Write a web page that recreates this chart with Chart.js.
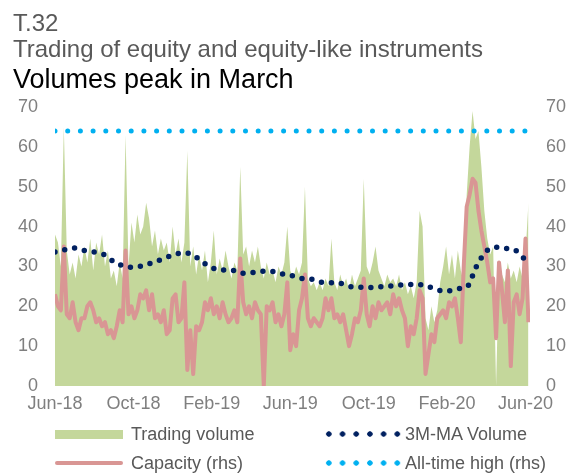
<!DOCTYPE html>
<html>
<head>
<meta charset="utf-8">
<script src="https://cdn.jsdelivr.net/npm/chart.js@4.4.0/dist/chart.umd.min.js"></script>
<style>
  body { margin: 0; background: #fff; }
  #wrap { position: relative; width: 570px; height: 473px; font-family: "Liberation Sans", Arial, sans-serif; }
  #chart { position: absolute; left: 0; top: 0; }
  .txt { position: absolute; left: 13px; white-space: nowrap; line-height: 1; }
  .lg { position: absolute; white-space: nowrap; line-height: 1; font-size: 18px; color: #595959; }
  .dots { position: absolute; height: 6px; background-repeat: repeat-x; background-size: 13.7px 6px; }
</style>
</head>
<body>
<div id="wrap">
  <canvas id="chart" width="570" height="473"></canvas>
  <div class="txt" style="top:11px; font-size:24px; color:#595959;">T.32</div>
  <div class="txt" style="top:37px; font-size:24px; color:#595959;">Trading of equity and equity-like instruments</div>
  <div class="txt" style="top:66px; font-size:27px; color:#000;">Volumes peak in March</div>

  <!-- legend -->
  <div style="position:absolute; left:55px; top:430px; width:68px; height:9px; background:#c4d79b;"></div>
  <div class="lg" style="left:131px; top:425px;">Trading volume</div>
  <div style="position:absolute; left:55px; top:461px; width:68px; height:4px; border-radius:2px; background:#d99694;"></div>
  <div class="lg" style="left:131px; top:454px;">Capacity (rhs)</div>
  <div class="dots" style="left:322px; top:431px; width:79px; background-image:radial-gradient(circle, #002060 2.4px, transparent 3px);"></div>
  <div class="lg" style="left:405px; top:425px;">3M-MA Volume</div>
  <div class="dots" style="left:322px; top:460px; width:79px; background-image:radial-gradient(circle, #00b0f0 2.4px, transparent 3px);"></div>
  <div class="lg" style="left:405px; top:454px;">All-time high (rhs)</div>
</div>
<script>
// x axis is in months counted from 1 Jun 2018
const tickLabels = ["Jun-18", "Oct-18", "Feb-19", "Jun-19", "Oct-19", "Feb-20", "Jun-20"];
const stepMonths = 0.15; // one sample every ~4.5 days

// daily trading volume (lhs), sampled
const tradingVolume = [
  38, 36, 30, 65, 34, 28, 31, 27, 33, 30,
  35, 31, 37, 29, 36, 33, 38, 30, 34, 27,
  29, 25, 31, 27, 63, 30, 41, 36, 43, 38,
  40, 46, 42, 35, 39, 33, 37, 34, 36, 31,
  40, 33, 37, 31, 36, 59, 30, 35, 28, 33,
  29, 34, 26, 31, 39, 28, 32, 29, 34, 30,
  27, 31, 29, 55, 33, 35, 30, 34, 31, 35,
  30, 27, 31, 28, 29, 26, 30, 28, 31, 40,
  29, 27, 30, 28, 31, 50, 27, 25, 26, 24,
  26, 24, 27, 25, 37, 26, 24, 28, 25, 27,
  24, 28, 25, 27, 29, 52, 30, 28, 31, 35,
  29, 27, 25, 28, 26, 27, 25, 28, 24, 26,
  23, 25, 22, 26, 44, 40, 17, 14, 20, 16,
  19, 26, 30, 35, 28, 33, 27, 34, 29, 26,
  48, 60, 69, 62, 64, 55, 44, 37, 33, 35,
  0, 30, 28, 26, 31, 27, 29, 26, 30, 27,
  33, 46
];

// capacity (rhs), same sampling
const capacity = [
  23, 20, 19, 35, 18, 17, 21, 16, 14, 17,
  17, 20, 21, 19, 16, 17, 15, 16, 13, 14,
  12, 15, 19, 16, 34, 18, 20, 17, 19, 23,
  22, 24, 19, 23, 17, 18, 16, 19, 13, 14,
  22, 23, 16, 17, 26, 4, 14, 3, 15, 14,
  16, 21, 19, 22, 18, 20, 17, 21, 18, 16,
  17, 19, 16, 32, 21, 18, 20, 17, 21, 19,
  18, 0, 20, 19, 21, 16, 18, 15, 18, 26,
  9, 13, 10, 19, 22, 28, 17, 15, 17, 16,
  15, 17, 22, 19, 22, 17, 18, 16, 18, 14,
  10, 13, 17, 16, 19, 27, 18, 15, 20, 17,
  21, 19, 20, 21, 18, 23, 20, 22, 19, 17,
  10, 15, 13, 17, 24, 22, 3, 8, 13, 11,
  17, 18, 19, 17, 21, 20, 22, 17, 11, 30,
  45, 48, 52, 51, 44, 39, 35, 31, 26, 27,
  12, 31, 24, 16, 29, 5, 21, 23, 18, 22,
  37, 16
];

// 3M moving average of volume, every half month
const maStep = 0.5;
const maVolume = [
  33.6, 34.2, 34.6, 34.0, 33.6, 33.0, 31.2, 30.1, 29.8, 30.2,
  31.0, 31.9, 32.8, 33.4, 33.0, 31.2, 29.7, 29.1, 29.1, 28.3,
  28.4, 28.8, 28.8, 28.2, 27.8, 27.0, 26.9, 26.1, 25.9, 25.8,
  25.0, 24.8, 24.7, 24.9, 25.0, 25.3, 25.4, 25.5, 25.0, 24.1,
  23.8, 24.4, 24.8, 30.0, 33.8, 34.8, 34.5, 34.0, 31.6
];

const allTimeHigh = 64;

const volPts = tradingVolume.map((v, i) => ({ x: i * stepMonths, y: v }));
const capPts = capacity.map((v, i) => ({ x: i * stepMonths, y: v }));
const maPts = maVolume.map((v, i) => ({ x: i * maStep, y: v }));
const lastX = (tradingVolume.length - 1) * stepMonths;
const athPts = [{ x: 0, y: allTimeHigh }, { x: lastX, y: allTimeHigh }];

const tickFont = { family: "'Liberation Sans', Arial, sans-serif", size: 18 };

new Chart(document.getElementById("chart"), {
  type: "line",
  data: {
    datasets: [
      {
        label: "All-time high (rhs)", data: athPts, yAxisID: "y2",
        borderColor: "#00b0f0", borderWidth: 5, borderDash: [0, 12.7], borderCapStyle: "round",
        pointRadius: 0, fill: false
      },
      {
        label: "3M-MA Volume", data: maPts, yAxisID: "y",
        borderColor: "#002060", borderWidth: 5.5, borderDash: [0, 10], borderCapStyle: "round",
        cubicInterpolationMode: "monotone", pointRadius: 0, fill: false
      },
      {
        label: "Capacity (rhs)", data: capPts, yAxisID: "y2",
        borderColor: "#d99694", borderWidth: 4, borderJoinStyle: "round",
        pointRadius: 0, fill: false, tension: 0
      },
      {
        label: "Trading volume", data: volPts, yAxisID: "y",
        borderWidth: 0, backgroundColor: "#c4d79b", borderColor: "#c4d79b",
        pointRadius: 0, fill: "origin", tension: 0
      }
    ]
  },
  options: {
    responsive: false,
    animation: false,
    layout: { padding: { left: 0, right: 0, top: 107, bottom: 47 } },
    plugins: { legend: { display: false }, tooltip: { enabled: false } },
    scales: {
      x: {
        type: "linear", min: 0, max: 24.23,
        grid: { display: false, drawTicks: false }, border: { display: false },
        ticks: {
          stepSize: 4, includeBounds: false, autoSkip: false, maxRotation: 0, padding: 7,
          color: "#7f7f7f", font: tickFont,
          callback: v => (v % 4 === 0 ? tickLabels[v / 4] : null)
        },
        afterFit: s => { s.height = 40; }
      },
      y: {
        position: "left", min: 0, max: 70,
        grid: { display: false, drawTicks: false }, border: { display: false },
        ticks: { stepSize: 10, padding: 17, color: "#7f7f7f", font: tickFont },
        afterFit: s => { s.width = 55; }
      },
      y2: {
        position: "right", min: 0, max: 70,
        grid: { display: false, drawTicks: false }, border: { display: false },
        ticks: { stepSize: 10, padding: 16, color: "#7f7f7f", font: tickFont },
        afterFit: s => { s.width = 40; }
      }
    }
  }
});
</script>
</body>
</html>
